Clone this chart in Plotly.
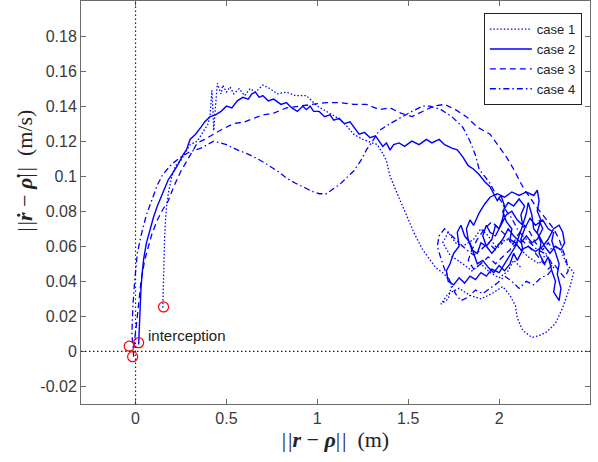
import plotly.graph_objects as go

# ---------------- data ----------------
case1_x = [0.15, 0.152, 0.155, 0.158, 0.16, 0.165, 0.17, 0.18, 0.19, 0.2, 0.22, 0.25, 0.27, 0.3, 0.34,
           0.37, 0.4, 0.41, 0.42, 0.425, 0.43, 0.44, 0.45, 0.47, 0.48, 0.5, 0.52, 0.54, 0.57, 0.6,
           0.63, 0.66, 0.7, 0.74, 0.78, 0.83, 0.88, 0.94, 1.0, 1.05, 1.1, 1.15, 1.2, 1.25, 1.3,
           1.33, 1.36, 1.38, 1.4, 1.43, 1.46, 1.49, 1.53, 1.58, 1.62, 1.65, 1.7, 1.74, 1.72, 1.68,
           1.72, 1.78, 1.84, 1.9, 1.96, 2.02, 2.06, 2.09, 2.1, 2.13, 2.18, 2.22, 2.26, 2.31, 2.35,
           2.39, 2.41, 2.37, 2.34, 2.3, 2.26, 2.22, 2.16, 2.1, 2.04, 1.98, 1.94, 1.9, 1.86, 1.8,
           1.76, 1.72, 1.69, 1.73, 1.8, 1.85, 1.9, 1.95, 2.0, 2.05, 2.08, 2.12]
case1_y = [0.025, 0.035, 0.045, 0.055, 0.065, 0.075, 0.082, 0.09, 0.095, 0.1, 0.106, 0.109, 0.113,
           0.118, 0.12, 0.125, 0.13, 0.135, 0.149, 0.14, 0.126, 0.14, 0.153, 0.147, 0.152, 0.148,
           0.151, 0.147, 0.15, 0.146, 0.15, 0.148, 0.152, 0.15, 0.147, 0.148, 0.146, 0.146, 0.14,
           0.137, 0.134, 0.13, 0.124, 0.121, 0.119, 0.118, 0.113, 0.109, 0.1, 0.092, 0.085, 0.078,
           0.068, 0.058, 0.052, 0.048, 0.044, 0.038, 0.03, 0.027, 0.033, 0.036, 0.032, 0.03, 0.033,
           0.037, 0.032, 0.026, 0.019, 0.012, 0.008, 0.009, 0.011, 0.016, 0.025, 0.037, 0.045,
           0.05, 0.058, 0.06, 0.056, 0.05, 0.054, 0.06, 0.064, 0.06, 0.066, 0.07, 0.064, 0.06,
           0.062, 0.068, 0.062, 0.055, 0.05, 0.046, 0.05, 0.045, 0.042, 0.046, 0.052, 0.048]

case2_x = [0.017, 0.02, 0.022, 0.025, 0.03, 0.035, 0.04, 0.045, 0.06, 0.08, 0.1, 0.12, 0.15, 0.18,
           0.2, 0.23, 0.26, 0.28, 0.3, 0.33, 0.36, 0.38, 0.41, 0.44, 0.47, 0.5, 0.53, 0.56, 0.59,
           0.62, 0.64, 0.66, 0.68, 0.7, 0.73, 0.76, 0.8, 0.83, 0.86, 0.89, 0.92, 0.94, 0.96, 0.98,
           1.01, 1.04, 1.07, 1.09, 1.12, 1.15, 1.18, 1.21, 1.23, 1.26, 1.29, 1.32, 1.34, 1.36, 1.38,
           1.4, 1.42, 1.45, 1.48, 1.52, 1.56, 1.6, 1.63, 1.67, 1.7, 1.74, 1.77, 1.8, 1.83, 1.86,
           1.89, 1.92, 1.95,
           1.97, 1.99, 2.01, 2.03, 2.02, 2.0, 1.98, 1.96, 1.93, 1.9, 1.88, 1.85, 1.83, 1.82, 1.84,
           1.86, 1.89, 1.92, 1.95, 1.99, 2.03, 2.07, 2.11, 2.15, 2.19, 2.21, 2.22, 2.21, 2.23, 2.21,
           2.23, 2.22, 2.25, 2.27, 2.29, 2.31, 2.3, 2.33, 2.34, 2.32, 2.33, 2.31, 2.29, 2.3, 2.27,
           2.24, 2.2, 2.17, 2.14, 2.12, 2.13, 2.1, 2.08, 2.06, 2.03, 2.0, 1.97, 1.94, 1.91, 1.88,
           1.86, 1.84, 1.81, 1.79, 1.77, 1.78, 1.75, 1.73, 1.71, 1.72, 1.75, 1.78, 1.81, 1.84, 1.87,
           1.9, 1.93, 1.96, 2.0, 2.03, 2.06, 2.09, 2.11, 2.13, 2.12, 2.14, 2.11, 2.08, 2.05, 2.02,
           2.04, 2.07, 2.06, 2.09, 2.12, 2.16, 2.2, 2.24, 2.27, 2.3, 2.33, 2.35, 2.36, 2.34, 2.31,
           2.28, 2.25, 2.22, 2.19, 2.18, 2.16, 2.15, 2.13, 2.1, 2.07, 2.04, 2.01, 1.98, 1.95, 1.93,
           1.91, 1.93, 1.96, 1.99, 2.02, 2.05, 2.08, 2.12, 2.15, 2.18, 2.21, 2.24, 2.22]
case2_y = [0.004, 0.012, 0.02, 0.028, 0.036, 0.043, 0.049, 0.053, 0.062, 0.07, 0.077, 0.083, 0.091,
           0.098, 0.101, 0.106, 0.112, 0.115, 0.121, 0.124, 0.128, 0.131, 0.134, 0.135, 0.137,
           0.14, 0.139, 0.143, 0.145, 0.144, 0.147, 0.148, 0.145, 0.146, 0.143, 0.144, 0.141,
           0.142, 0.139, 0.137, 0.14, 0.138, 0.14, 0.137, 0.137, 0.134, 0.135, 0.132, 0.133,
           0.13, 0.131, 0.127, 0.124, 0.125, 0.122, 0.123, 0.12, 0.117, 0.119, 0.115, 0.118,
           0.119, 0.117, 0.12, 0.118, 0.121, 0.119, 0.121, 0.118, 0.116, 0.115, 0.111, 0.106,
           0.104, 0.101, 0.097, 0.094,
           0.09, 0.086, 0.089, 0.083, 0.076, 0.07, 0.072, 0.064, 0.06, 0.062, 0.056, 0.058, 0.064,
           0.07, 0.075, 0.072, 0.079, 0.084, 0.088, 0.09, 0.088, 0.091, 0.089, 0.091, 0.089,
           0.092, 0.086, 0.08, 0.075, 0.068, 0.062, 0.056, 0.05, 0.054, 0.046, 0.04, 0.034, 0.029,
           0.036, 0.044, 0.05, 0.057, 0.063, 0.068, 0.07, 0.075, 0.072, 0.076, 0.07, 0.064, 0.058,
           0.052, 0.056, 0.05, 0.046, 0.049, 0.045, 0.048, 0.052, 0.05, 0.056, 0.062, 0.066,
           0.072, 0.068, 0.06, 0.056, 0.05, 0.046, 0.04, 0.038, 0.042, 0.039, 0.043, 0.041, 0.045,
           0.043, 0.047, 0.045, 0.05, 0.055, 0.06, 0.066, 0.072, 0.078, 0.083, 0.087, 0.083,
           0.085, 0.08, 0.074, 0.07, 0.064, 0.062, 0.058, 0.06, 0.057, 0.06, 0.064, 0.07, 0.072,
           0.068, 0.062, 0.058, 0.06, 0.056, 0.06, 0.066, 0.07, 0.078, 0.085, 0.079, 0.072, 0.075,
           0.08, 0.078, 0.072, 0.066, 0.068, 0.072, 0.066, 0.06, 0.056, 0.06, 0.064, 0.07, 0.066,
           0.062, 0.066, 0.062, 0.064, 0.07, 0.075]

case3_x = [-0.01, 0.0, 0.01, 0.02, 0.03, 0.05, 0.07, 0.09, 0.12, 0.15, 0.18, 0.21, 0.25, 0.29,
           0.34, 0.38, 0.43, 0.48, 0.54, 0.6, 0.65, 0.7, 0.76, 0.83, 0.9, 0.98, 1.05, 1.12, 1.2,
           1.27, 1.34, 1.4, 1.46, 1.52, 1.58, 1.64, 1.7, 1.76, 1.82, 1.88, 1.95, 2.0, 2.04, 2.08,
           2.11, 2.14, 2.17, 2.2, 2.24, 2.27, 2.3, 2.33, 2.35, 2.37, 2.38, 2.36, 2.33, 2.3, 2.27,
           2.23, 2.2, 2.16, 2.12, 2.08, 2.04, 2.0, 1.96, 1.92, 1.88, 1.85, 1.83, 1.86, 1.9, 1.94,
           1.98, 2.02, 2.06, 2.1, 2.14, 2.17, 2.2, 2.24, 2.27, 2.3]
case3_y = [0.002, 0.01, 0.02, 0.03, 0.04, 0.052, 0.06, 0.067, 0.075, 0.081, 0.086, 0.094, 0.103,
           0.11, 0.119, 0.121, 0.124, 0.127, 0.13, 0.131, 0.133, 0.135, 0.136, 0.139, 0.14,
           0.141, 0.142, 0.142, 0.141, 0.141, 0.138, 0.139, 0.136, 0.134, 0.137, 0.14, 0.141,
           0.138, 0.134, 0.128, 0.124, 0.117, 0.111, 0.104, 0.098, 0.092, 0.088, 0.083, 0.078,
           0.074, 0.07, 0.064, 0.058, 0.052, 0.046, 0.042, 0.046, 0.05, 0.047, 0.052, 0.056, 0.06,
           0.064, 0.06, 0.066, 0.07, 0.074, 0.07, 0.064, 0.058, 0.052, 0.047, 0.05, 0.054, 0.05,
           0.054, 0.058, 0.066, 0.072, 0.068, 0.062, 0.058, 0.062, 0.058]

case4_x = [-0.01, -0.02, -0.015, -0.005, 0.01, 0.03, 0.06, 0.08, 0.12, 0.15, 0.2, 0.25, 0.3, 0.36,
           0.43, 0.5, 0.56, 0.61, 0.67, 0.72, 0.78, 0.83, 0.88, 0.94, 0.98, 1.01, 1.05, 1.09,
           1.12, 1.16, 1.2, 1.24, 1.27, 1.31, 1.34, 1.4, 1.45, 1.52, 1.58, 1.62, 1.68, 1.74, 1.8,
           1.84, 1.87, 1.89, 1.92, 1.95, 1.98, 2.01, 2.04, 2.07, 2.1, 2.13, 2.17, 2.21, 2.25,
           2.28, 2.3, 2.27, 2.23, 2.19, 2.15, 2.11, 2.07, 2.03, 1.99, 1.95, 1.91, 1.87, 1.83, 1.79,
           1.76, 1.73, 1.7, 1.68, 1.66, 1.67, 1.7, 1.74, 1.78, 1.82, 1.86, 1.9, 1.94, 1.98, 2.02]
case4_y = [-0.003, 0.01, 0.025, 0.04, 0.056, 0.066, 0.078, 0.084, 0.095, 0.101, 0.107, 0.111,
           0.114, 0.116, 0.12, 0.118, 0.115, 0.113, 0.11, 0.107, 0.103, 0.099, 0.096, 0.093,
           0.091, 0.09, 0.09, 0.093, 0.095, 0.099, 0.103, 0.109, 0.115, 0.121, 0.126, 0.13,
           0.133, 0.137, 0.14, 0.14, 0.138, 0.134, 0.128, 0.12, 0.112, 0.104, 0.1, 0.096, 0.09,
           0.086, 0.08, 0.076, 0.07, 0.066, 0.062, 0.058, 0.056, 0.052, 0.048, 0.044, 0.042,
           0.038, 0.04, 0.036, 0.04, 0.043, 0.039, 0.036, 0.033, 0.035, 0.031, 0.029, 0.033,
           0.04, 0.047, 0.053, 0.06, 0.066, 0.07, 0.066, 0.062, 0.058, 0.055, 0.058, 0.062,
           0.058, 0.062]

end_x = [0.154, -0.035, 0.017, -0.016]
end_y = [0.0254, 0.003, 0.005, -0.003]

case_names = ["case 1", "case 2", "case 3", "case 4"]
xtick_vals = [0, 0.5, 1, 1.5, 2, 2.5]
xtick_text = ["0", "0.5", "1", "1.5", "2", "2.5"]
ytick_vals = [-0.02, 0, 0.02, 0.04, 0.06, 0.08, 0.1, 0.12, 0.14, 0.16, 0.18]
ytick_text = ["-0.02", "0", "0.02", "0.04", "0.06", "0.08", "0.1", "0.12", "0.14", "0.16", "0.18"]

# ---------------- figure ----------------
BLUE = "#0000ff"
dashes = ["1.5px,2px", "solid", "6px,4px", "6px,3px,1.5px,3px"]
widths = [1.3, 1.4, 1.3, 1.3]
xs = [case1_x, case2_x, case3_x, case4_x]
ys = [case1_y, case2_y, case3_y, case4_y]

fig = go.Figure()
for name, x, y, d, w in zip(case_names, xs, ys, dashes, widths):
    fig.add_trace(go.Scatter(x=x, y=y, mode="lines", name=name,
                             line=dict(color=BLUE, width=w, dash=d)))

fig.add_trace(go.Scatter(x=end_x, y=end_y, mode="markers", showlegend=False,
                         marker=dict(symbol="circle-open", size=10, color="red",
                                     line=dict(width=1.2, color="red"))))

fig.add_hline(y=0, line=dict(color="#222222", width=1.2, dash="1.5px,2.5px"))
fig.add_vline(x=0, line=dict(color="#222222", width=1.2, dash="1.5px,2.5px"))

fig.add_annotation(x=0.06, y=0.0089, text="interception", showarrow=False,
                   xanchor="left", yanchor="middle",
                   font=dict(family="Liberation Sans, Arial", size=15, color="#222222"))

TITLE_FONT = dict(family="Liberation Serif, DejaVu Serif", size=22, color="#222222")
NB = "|\u200a|"  # norm bars

fig.add_annotation(xref="paper", yref="paper", x=-0.110, y=0.579,
                   text=f"{NB}<b><i>ṙ</i></b> − <b><i>ρ̇</i></b>{NB}  (m/s)", showarrow=False,
                   textangle=-90, xanchor="center", yanchor="middle", font=TITLE_FONT)

axis_common = dict(showgrid=False, zeroline=False, showline=True, linecolor="#6b6b6b",
                   linewidth=1, mirror="ticks", ticks="inside", ticklen=5,
                   tickcolor="#6b6b6b", tickwidth=1,
                   tickfont=dict(family="Liberation Sans, Arial", size=16, color="#3a3a3a"))

fig.update_xaxes(range=[-0.3, 2.5], tickvals=xtick_vals, ticktext=xtick_text,
                 title=dict(text=f"{NB}<b><i>r</i></b> − <b><i>ρ</i></b>{NB}  (m)", standoff=3,
                            font=TITLE_FONT),
                 **axis_common)
fig.update_yaxes(range=[-0.03, 0.2], tickvals=ytick_vals, ticktext=ytick_text,
                 **axis_common)

fig.update_layout(
    width=598, height=462,
    margin=dict(l=81, r=8, t=1, b=58, autoexpand=False),
    paper_bgcolor="white", plot_bgcolor="white",
    legend=dict(x=0.984, y=0.97, xanchor="right", yanchor="top",
                bgcolor="white", bordercolor="#222222", borderwidth=1,
                font=dict(family="Liberation Sans, Arial", size=13, color="#222222"),
                tracegroupgap=0, itemwidth=42),
)

fig.write_html("out.html")
